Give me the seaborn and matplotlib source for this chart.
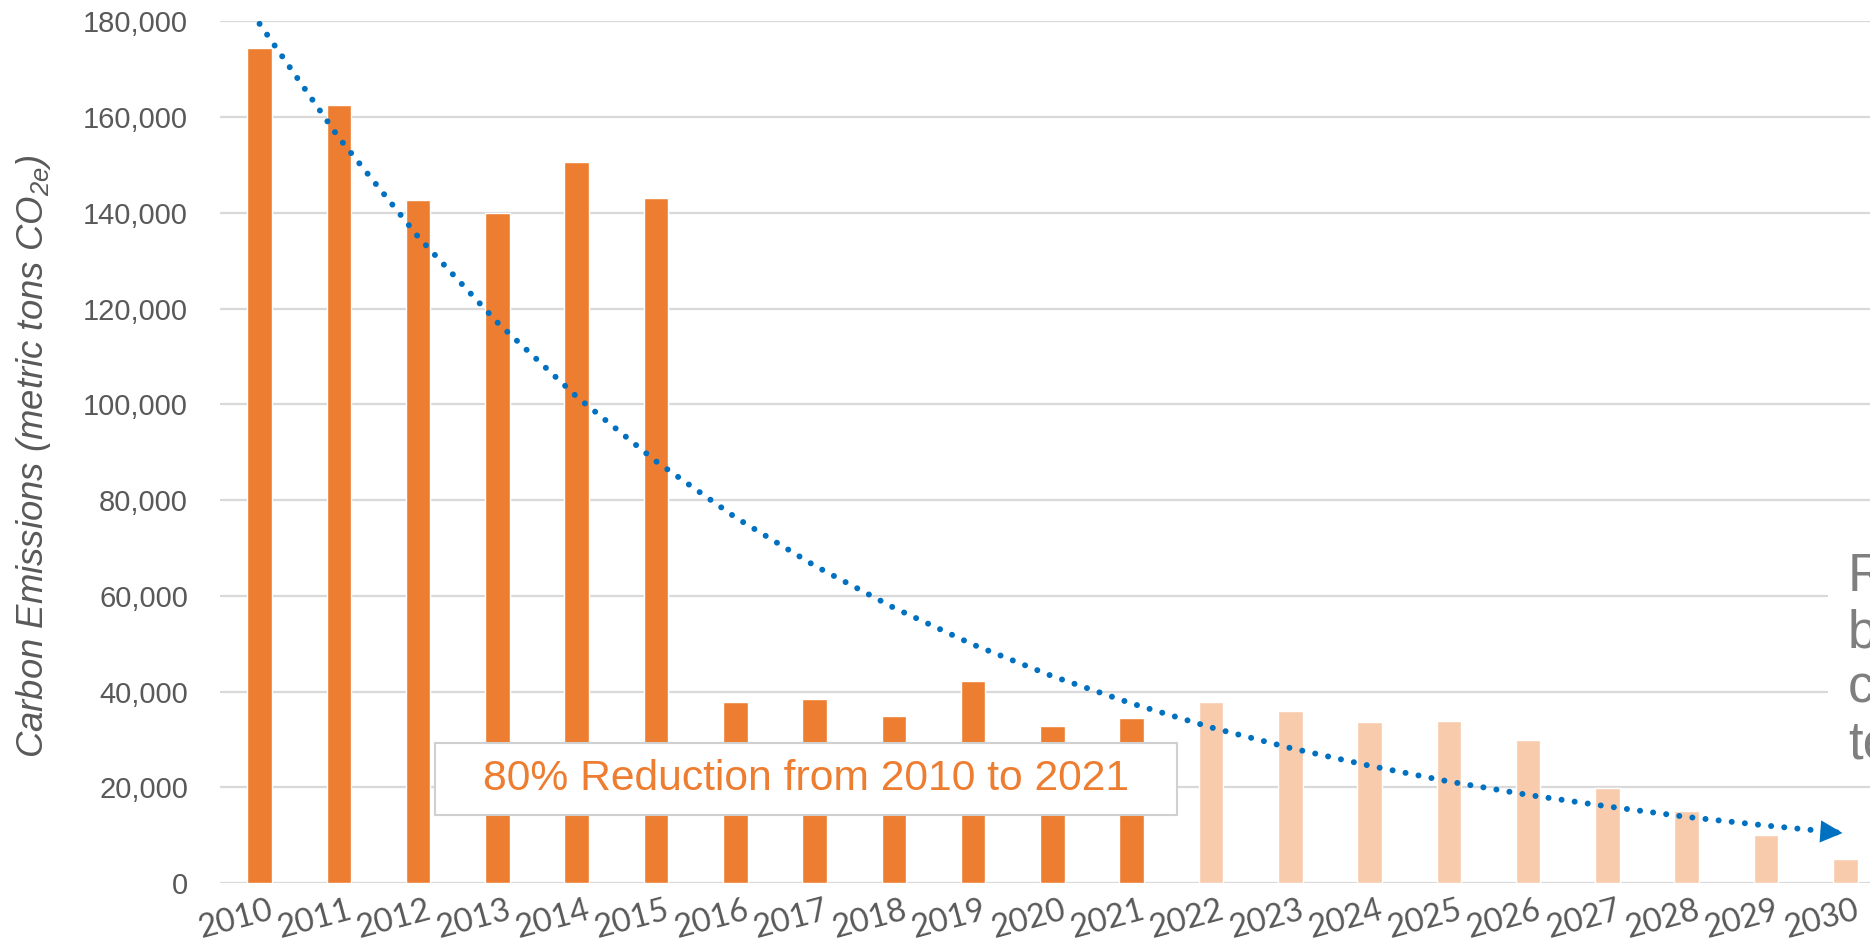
import numpy as np
import pandas as pd
import matplotlib.pyplot as plt
import matplotlib.transforms as mtransforms
import seaborn as sns
from matplotlib.patches import Rectangle
from matplotlib.ticker import FuncFormatter

# values (metric tons CO2e)
years = ['2010', '2011', '2012', '2013', '2014', '2015', '2016', '2017', '2018', '2019', '2020',
         '2021', '2022', '2023', '2024', '2025', '2026', '2027', '2028', '2029', '2030']
emissions = [174500, 162500, 142600, 139900, 150600, 143100, 37900, 38400, 34900, 42100, 32900,
             34400, 37900, 35900, 33700, 33900, 29900, 19900, 15000, 10000, 5000]
status = ['Actual'] * 12 + ['Projected'] * 9
# dotted trend line, one reading per year
trend = [179500, 155700, 135000, 117100, 101600, 88100, 76400, 66300, 57500, 49800, 43200,
         37500, 32500, 28200, 24500, 21200, 18400, 16000, 13800, 12000, 10400]

df = pd.DataFrame({'Year': years, 'Emissions': emissions, 'Status': status})

sns.set_style('white')
plt.rcParams['font.family'] = ['Liberation Sans', 'DejaVu Sans']
plt.rcParams['mathtext.fontset'] = 'custom'
plt.rcParams['mathtext.rm'] = 'Liberation Sans:italic'
plt.rcParams['mathtext.it'] = 'Liberation Sans:italic'

gray = '#595959'

fig = plt.figure(figsize=(18.7, 9.52), dpi=100)
ax = fig.add_axes([0.1176, 0.0725, 0.8904, 0.905])

sns.barplot(data=df, x='Year', y='Emissions', hue='Status',
            palette={'Actual': '#ED7D31', 'Projected': '#F8CBAD'},
            width=0.31, dodge=False, saturation=1, legend=False, ax=ax, zorder=2)

pos = np.arange(len(years))
ax.plot(pos, trend, color='#0070C0', lw=4.3, linestyle=(0, (0.01, 2.2)),
        dash_capstyle='round', zorder=3)
ax.annotate('', xy=(pos[-1], trend[-1]), xytext=(pos[-1] - 0.3, trend[-1] + 350),
            arrowprops=dict(arrowstyle='-|>', color='#0070C0', lw=0, mutation_scale=40),
            zorder=3)

ax.set_xlim(-0.5, len(years) - 0.5)
ax.set_ylim(0, 180000)
ax.set_yticks(range(0, 180001, 20000))
ax.yaxis.set_major_formatter(FuncFormatter(lambda v, p: f'{v:,.0f}'))
ax.yaxis.grid(True, color='#d9d9d9', lw=1.6)
ax.set_axisbelow(True)
for s in ax.spines.values():
    s.set_visible(False)

ax.tick_params(axis='y', length=0, pad=23, labelsize=21, labelcolor=gray)
ax.tick_params(axis='x', length=0, pad=9, labelsize=23.5, labelcolor=gray, labelrotation=15)
shift = mtransforms.ScaledTranslation(-0.24, 0, fig.dpi_scale_trans)
for lab in ax.get_xticklabels():
    lab.set_fontfamily(['Lato', 'DejaVu Sans'])
    lab.set_transform(lab.get_transform() + shift)

ax.set_xlabel('')
ylab = ax.set_ylabel(r'Carbon Emissions (metric tons CO$_{\mathrm{2e}}$)', fontsize=27.5,
                     style='italic', color=gray)
ax.yaxis.set_label_coords(-0.1, 0.5)

# fit the y label to the span it has in the original (about 605 px tall, centred 456 px from top)
fig.canvas.draw()
bb = ylab.get_window_extent()
ylab.set_fontsize(ylab.get_fontsize() * 605 / bb.height)
fig.canvas.draw()
bb = ylab.get_window_extent()
ax_h = ax.get_window_extent().height
ax.yaxis.set_label_coords(-0.1, 0.5 + ((952 - 456) - (bb.y0 + bb.y1) / 2) / ax_h)

# callout box
ax.add_patch(Rectangle((0.129, 0.079), 0.446, 0.0835, transform=ax.transAxes,
                       facecolor='white', edgecolor='#d0d0d0', lw=1.5, zorder=4))
ax.text(0.352, 0.1208, '80% Reduction from 2010 to 2021', transform=ax.transAxes,
        ha='center', va='center', fontsize=30.7, color='#ED7D31', zorder=5)

# note cut off at the right edge, on a white patch that hides two gridlines
fig.add_artist(Rectangle((0.9775, 0.195), 0.03, 0.245, transform=fig.transFigure,
                         facecolor='white', edgecolor='none', zorder=2))
fig.text(0.9882, 0.42, 'R\nb\nc\nte', ha='left', va='top', fontsize=38,
         color='#7f7f7f', linespacing=1.15, zorder=3)

fig.savefig('out.png', dpi=100)
